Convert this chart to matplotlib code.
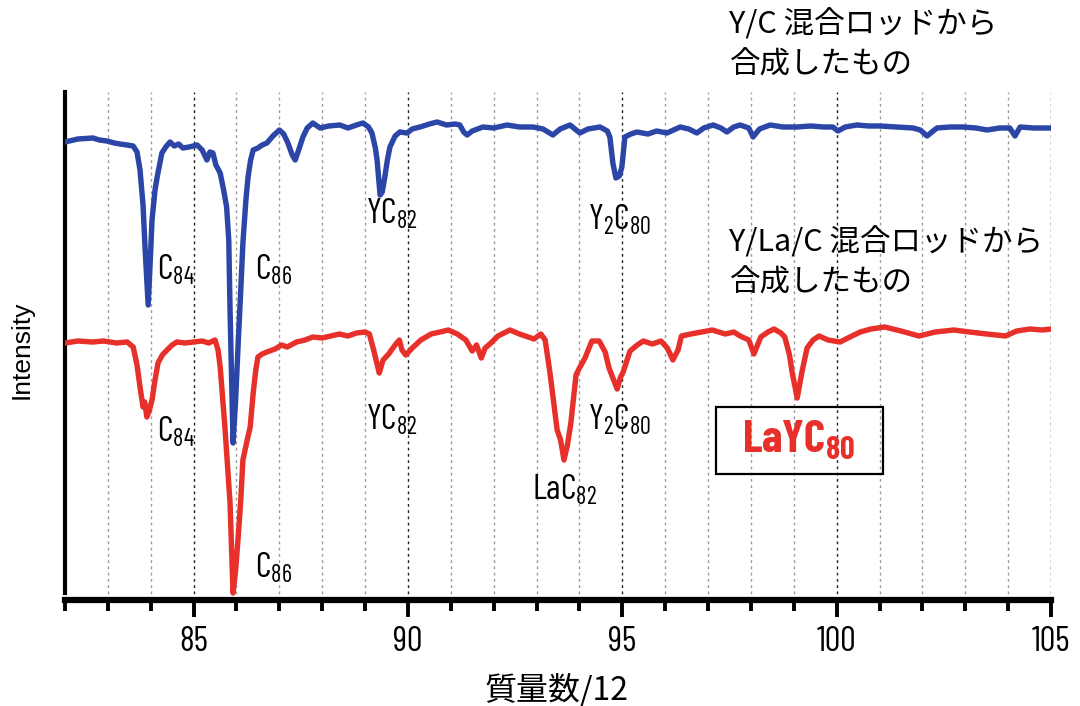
import matplotlib
matplotlib.use('Agg')
import matplotlib.pyplot as plt
from matplotlib import font_manager
from matplotlib.patches import Rectangle

# spectrum: mass/12 and intensity (arb. units)
blue_x = [82.00, 82.30, 82.65, 82.80, 82.98, 83.15, 83.28, 83.45, 83.59, 83.68,
          83.75, 83.82, 83.87, 83.94, 84.00, 84.03, 84.10, 84.15, 84.26, 84.35,
          84.45, 84.55, 84.65, 84.75, 84.90, 85.08, 85.20, 85.31, 85.38, 85.45,
          85.52, 85.62, 85.70, 85.77, 85.82, 85.85, 85.92, 85.98, 86.04, 86.10,
          86.15, 86.22, 86.27, 86.33, 86.39, 86.50, 86.60, 86.71, 86.85, 87.00,
          87.10, 87.20, 87.30, 87.37, 87.45, 87.55, 87.65, 87.78, 87.95, 88.15,
          88.41, 88.60, 88.80, 88.95, 89.08, 89.16, 89.24, 89.28, 89.35, 89.40,
          89.46, 89.52, 89.58, 89.70, 89.81, 89.98, 90.10, 90.28, 90.50, 90.68,
          90.90, 91.10, 91.21, 91.30, 91.38, 91.50, 91.75, 92.00, 92.31, 92.60,
          92.92, 93.15, 93.38, 93.55, 93.78, 94.01, 94.20, 94.48, 94.65, 94.71,
          94.78, 94.85, 94.93, 94.99, 95.06, 95.20, 95.34, 95.60, 95.80, 96.04,
          96.35, 96.55, 96.74, 96.90, 97.12, 97.30, 97.44, 97.60, 97.75, 97.95,
          98.05, 98.20, 98.45, 98.75, 99.07, 99.40, 99.70, 99.91, 100.03, 100.20,
          100.47, 100.75, 101.01, 101.40, 101.78, 101.95, 102.11, 102.25, 102.34, 102.65,
          102.95, 103.25, 103.51, 103.80, 104.04, 104.16, 104.28, 104.60, 105.00]
blue_y = [458, 461, 462, 460, 459, 457, 456, 455, 454, 448,
          430, 395, 350, 295, 350, 380, 410, 423, 447, 453,
          458, 454, 456, 452, 453, 455, 450, 440, 448, 447,
          435, 427, 410, 393, 360, 290, 157, 200, 257, 310,
          357, 400, 423, 440, 450, 452, 455, 457, 464, 470,
          466, 457, 445, 440, 450, 463, 472, 477, 472, 474,
          475, 472, 475, 477, 473, 467, 452, 440, 405, 408,
          423, 440, 453, 464, 468, 467, 471, 473, 476, 478,
          475, 476, 475, 468, 465, 469, 473, 472, 475, 473,
          473, 471, 465, 471, 475, 467, 471, 473, 469, 463,
          437, 422, 424, 433, 463, 466, 468, 466, 469, 467,
          473, 471, 467, 472, 475, 472, 468, 473, 475, 472,
          463, 471, 475, 473, 473, 474, 473, 473, 469, 473,
          475, 474, 474, 473, 472, 470, 464, 469, 472, 473,
          473, 472, 470, 472, 472, 464, 473, 472, 472]

red_x = [82.00, 82.30, 82.65, 82.90, 83.20, 83.45, 83.59, 83.68, 83.75, 83.82,
         83.86, 83.91, 83.97, 84.03, 84.10, 84.17, 84.27, 84.38, 84.50, 84.61,
         84.80, 84.99, 85.20, 85.35, 85.50, 85.57, 85.62, 85.73, 85.85, 85.92,
         85.98, 86.04, 86.10, 86.15, 86.25, 86.32, 86.39, 86.45, 86.50, 86.60,
         86.71, 86.90, 87.05, 87.18, 87.40, 87.60, 87.78, 88.00, 88.20, 88.40,
         88.60, 88.80, 89.00, 89.10, 89.20, 89.33, 89.42, 89.55, 89.70, 89.80,
         89.86, 89.95, 90.10, 90.30, 90.54, 90.75, 90.94, 91.15, 91.35, 91.50,
         91.60, 91.71, 91.80, 91.91, 92.10, 92.38, 92.60, 92.94, 93.10, 93.20,
         93.31, 93.48, 93.56, 93.64, 93.72, 93.80, 93.92, 94.00, 94.13, 94.29,
         94.46, 94.60, 94.69, 94.80, 94.88, 94.95, 95.02, 95.18, 95.35, 95.49,
         95.70, 95.90, 96.05, 96.18, 96.30, 96.38, 96.60, 96.85, 97.10, 97.40,
         97.60, 97.75, 97.95, 98.07, 98.23, 98.40, 98.54, 98.70, 98.79, 98.90,
         98.96, 99.08, 99.19, 99.31, 99.45, 99.59, 99.80, 100.08, 100.31, 100.55,
         100.80, 101.12, 101.50, 101.92, 102.30, 102.73, 103.10, 103.50, 103.94, 104.20,
         104.51, 104.80, 105.00]
red_y = [257, 259, 258, 259, 257, 258, 253, 235, 213, 193,
         198, 183, 190, 200, 220, 237, 245, 250, 255, 258,
         257, 258, 259, 257, 260, 250, 233, 173, 97, 7,
         30, 63, 100, 140, 160, 173, 207, 230, 243, 246,
         248, 251, 255, 253, 258, 260, 263, 262, 264, 266,
         264, 267, 268, 266, 250, 227, 240, 246, 255, 260,
         250, 245, 252, 260, 266, 268, 270, 266, 260, 249,
         255, 242, 252, 256, 264, 270, 266, 261, 266, 260,
         228, 170, 160, 140, 155, 177, 225, 232, 242, 259,
         259, 248, 232, 220, 211, 222, 228, 249, 255, 259,
         256, 259, 252, 240, 250, 264, 266, 268, 270, 266,
         268, 264, 260, 246, 263, 268, 271, 267, 263, 245,
         228, 202, 228, 252, 260, 264, 260, 258, 263, 268,
         271, 273, 269, 264, 268, 270, 268, 266, 264, 269,
         271, 270, 271]

peak_labels = ['C$_{84}$', 'C$_{86}$', 'YC$_{82}$', 'Y$_2$C$_{80}$',
               'C$_{84}$', 'C$_{86}$', 'YC$_{82}$', 'LaC$_{82}$', 'Y$_2$C$_{80}$']
peak_lx = [84.15, 86.43, 89.02, 94.20, 84.15, 86.43, 89.02, 92.90, 94.20]
peak_ly = [330, 330, 386, 380, 168, 32, 180, 110, 180]

top_note = ['Y/C 混合ロッドから', '合成したもの']
mid_note = ['Y/La/C 混合ロッドから', '合成したもの']

names = {f.name for f in font_manager.fontManager.ttflist}


def pick(cands, default):
    for c in cands:
        if c in names:
            return c
    return default


narrow = pick(['Barlow Condensed', 'Roboto Condensed', 'Archivo Narrow',
               'Asap Condensed'], 'DejaVu Sans')
jp = 'Noto Sans CJK JP'

plt.rcParams['font.family'] = [narrow, jp, 'DejaVu Sans']
plt.rcParams['font.stretch'] = 'condensed'
plt.rcParams['mathtext.fontset'] = 'custom'
plt.rcParams['mathtext.rm'] = narrow
plt.rcParams['mathtext.it'] = narrow
plt.rcParams['mathtext.bf'] = narrow + ':bold'
plt.rcParams['mathtext.default'] = 'rm'

fig = plt.figure(figsize=(10.8, 7.06), dpi=100)
ax = fig.add_axes([65 / 1080, 1 - 600 / 706, 986 / 1080, 508 / 706])

ax.plot(red_x, red_y, color='#e8302a', lw=3.9, solid_joinstyle='round', zorder=3)
ax.plot(blue_x, blue_y, color='#2b46a6', lw=3.9, solid_joinstyle='round', zorder=4)

ax.set_xlim(82, 105)
ax.set_ylim(0, 508)
ax.set_yticks([])
ax.set_xticks([85, 90, 95, 100, 105])
ax.set_xticks(range(82, 106), minor=True)
ax.tick_params(axis='x', which='major', direction='out', length=12, width=2.8,
               labelsize=25, pad=7)
ax.tick_params(axis='x', which='minor', direction='out', length=8, width=2.8)

for v in range(83, 106):
    c = '#222222' if v % 5 == 0 else '#9a9a9a'
    ax.axvline(v, color=c, lw=1.0, ls=(0, (2, 2.5)), zorder=1)

for s in ['top', 'right']:
    ax.spines[s].set_visible(False)
ax.spines['left'].set_linewidth(3)
ax.spines['left'].set_bounds(7, 508)
ax.spines['bottom'].set_linewidth(4.5)

for t, x, y in zip(peak_labels, peak_lx, peak_ly):
    ax.text(x, y, t, fontsize=25, ha='left', va='center', color='black')

ax.add_patch(Rectangle((97.19, 126), 101.08 - 97.19, 193 - 126, fill=False,
                       ec='black', lw=1.6, zorder=5))
ax.text(97.80, 160, 'LaYC$_{\\mathbf{80}}$', fontsize=33, fontweight='bold',
        color='#e8302a', ha='left', va='center', zorder=6)

for t, y in zip(top_note + mid_note, [575, 535, 357, 317]):
    ax.text(97.5, y, t, fontsize=22, family=[jp], ha='left', va='center')

fig.text(22 / 1080, 1 - 350 / 706, 'Intensity', rotation=90, fontsize=19,
         family=['Liberation Sans'], stretch='normal', ha='center', va='center')
fig.text(557 / 1080, 1 - 690 / 706, '質量数/12', fontsize=23, family=[jp],
         ha='center', va='center')

fig.savefig('out.png', dpi=100)
